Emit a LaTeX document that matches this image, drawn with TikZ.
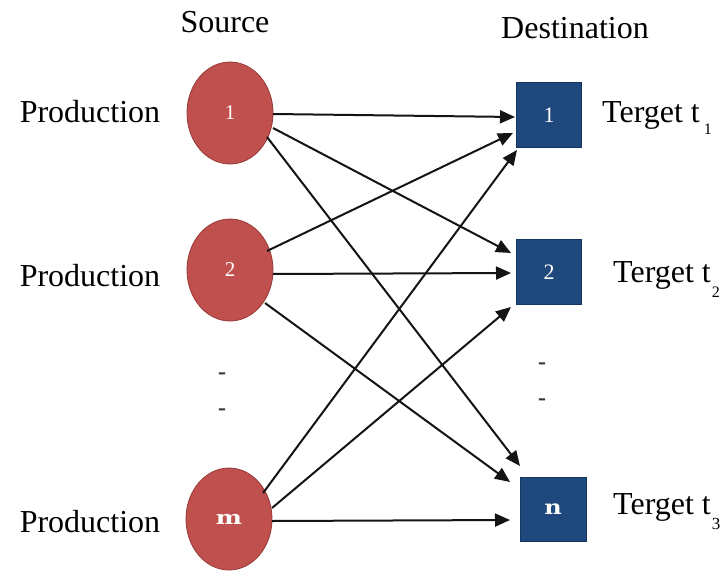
\documentclass[tikz,border=0pt]{standalone}
\usepackage{fontspec}
\setmainfont{Liberation Serif}
\newfontfamily\slabfont{DejaVu Serif}
\usetikzlibrary{arrows.meta,calc,shapes.geometric}
\definecolor{srcred}{RGB}{192,80,77}
\definecolor{srcedge}{RGB}{150,58,56}
\definecolor{dstblue}{RGB}{31,73,125}
\definecolor{dstedge}{RGB}{22,54,96}
\definecolor{linegray}{RGB}{20,20,20}
\begin{document}
\begin{tikzpicture}[x=1pt,y=-1pt,
  src/.style={ellipse,fill=srcred,draw=srcedge,line width=0.8pt,minimum width=86pt,minimum height=102pt,inner sep=0pt,text=white,font=\fontsize{21}{21}\selectfont},
  dst/.style={rectangle,fill=dstblue,draw=dstedge,line width=0.8pt,minimum width=65pt,minimum height=65pt,inner sep=0pt,text=white,font=\fontsize{22}{22}\selectfont},
  lbl/.style={font=\fontsize{32}{32}\selectfont,inner sep=0pt},
  dotlbl/.style={font=\bfseries\fontsize{24}{24}\selectfont,inner sep=0pt,text=black!80},
  conn/.style={draw=linegray,line width=2pt,-{Triangle[length=15pt,width=13pt]}}]
\useasboundingbox (0,0) rectangle (725,570);
\fill[white] (0,0) rectangle (725,570);

% headings
\node[lbl,anchor=base] (hsrc) at (225,32) {Source};
\node[lbl,anchor=base] (hdst) at (575,38) {Destination};

% source nodes
\node[src] (e1) at (230,113) {1};
\node[src] (e2) at (230,270) {2};
\node[src] (em) at (229,519) {\slabfont\bfseries\fontsize{19}{19}\selectfont\scalebox{1.3}[1]{m}};

% destination nodes
\node[dst] (t1) at (549,115) {1};
\node[dst] (t2) at (549,272) {2};
\node[dst,minimum width=66pt,minimum height=64pt] (tn) at (553,509) {\slabfont\bfseries\fontsize{20}{20}\selectfont\scalebox{1.2}[1]{n}};

% production labels
\node[lbl,anchor=base] (p1) at (90,122) {Production};
\node[lbl,anchor=base] (p2) at (90,286) {Production};
\node[lbl,anchor=base] (pm) at (90,532) {Production};

% target labels
\node[lbl,anchor=base west] (g1) at (602,122) {Terget t\hspace{4pt}\raisebox{-12pt}{\fontsize{16}{16}\selectfont 1}};
\node[lbl,anchor=base west] (g2) at (613,282) {Terget t\hspace{1pt}\raisebox{-15pt}{\fontsize{16}{16}\selectfont 2}};
\node[lbl,anchor=base west] (g3) at (613,514) {Terget t\hspace{1pt}\raisebox{-15pt}{\fontsize{17}{17}\selectfont 3}};

% ellipsis dashes
\node[dotlbl] (d1) at (222,376) {-};
\node[dotlbl] (d2) at (222,412) {-};
\node[dotlbl] (d3) at (542,366) {-};
\node[dotlbl] (d4) at (542,402) {-};

% connectors from source 1
\draw[conn] ($(e1.center)+(43,1)$) -- ($(t1.center)+(-34,2)$);
\draw[conn] ($(e1.center)+(43,15)$) -- ($(t2.center)+(-38,-19)$);
\draw[conn] ($(e1.center)+(37,24)$) -- ($(tn.center)+(-33,-43)$);
% connectors from source 2
\draw[conn] ($(e2.center)+(37,-19)$) -- ($(t1.center)+(-36,18)$);
\draw[conn] ($(e2.center)+(43,4)$) -- ($(t2.center)+(-38,1)$);
\draw[conn] ($(e2.center)+(35,33)$) -- ($(tn.center)+(-43,-27)$);
% connectors from source m
\draw[conn] ($(em.center)+(34,-26)$) -- ($(t1.center)+(-32,35)$);
\draw[conn] ($(em.center)+(43,-11)$) -- ($(t2.center)+(-38,35)$);
\draw[conn] ($(em.center)+(43,2)$) -- ($(tn.center)+(-43,11)$);
\end{tikzpicture}
\end{document}
